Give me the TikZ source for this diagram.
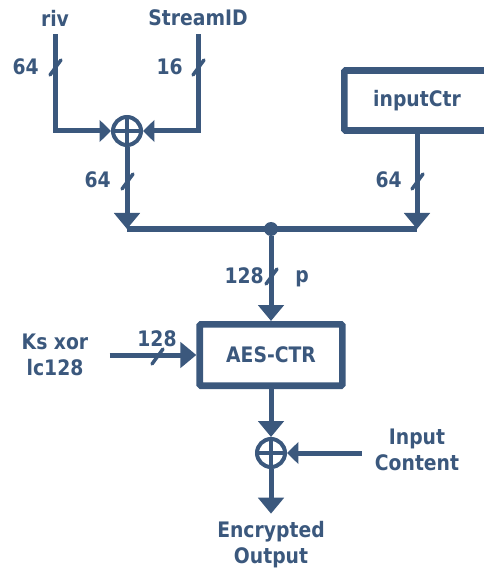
\documentclass[tikz,border=0pt]{standalone}
\usepackage{fontspec}
\setmainfont{DejaVu Sans}[FakeStretch=0.88]
\usepackage{xcolor}
\usepackage{tikz}
\usetikzlibrary{arrows.meta}

\definecolor{aesblue}{RGB}{59,88,125}

\begin{document}
\begin{tikzpicture}[x=0.75pt, y=-0.75pt,
    every node/.style={text=aesblue},
    lbl/.style={inner sep=0pt, font=\fontsize{16}{19.5}\selectfont\bfseries, align=center},
    blk/.style={rectangle, draw=aesblue, line width=5pt, rounded corners=1pt, font=\fontsize{16}{19.5}\selectfont\bfseries},
    wire/.style={draw=aesblue, line width=3.75pt},
    sig/.style={wire, -{Triangle[width=19pt, length=12pt]}},
    insig/.style={wire, -{Triangle[width=16pt, length=8.5pt]}},
    xorop/.style={circle, draw=aesblue, line width=3pt, minimum size=21pt, inner sep=0pt,
        path picture={\draw[aesblue, line width=2.4pt]
            (path picture bounding box.north) -- (path picture bounding box.south)
            (path picture bounding box.west) -- (path picture bounding box.east);}},
    bw/.pic={\draw[aesblue, line width=2.6pt, line cap=round] (-5,8) -- (6,-7);}
]
    \useasboundingbox (0,0) rectangle (484,573);
    \node[lbl, outer sep=6pt] (riv) at (55,18) {riv};
    \node[lbl, outer sep=6pt] (sid) at (198,18) {StreamID};
    \node[xorop] (xa) at (127,131) {};
    \node[blk, minimum width=109pt, minimum height=45pt] (ctr) at (417,100.5) {inputCtr};
    \coordinate (busL) at (127,229);
    \coordinate (busR) at (417,229);
    \node[circle, fill=aesblue, inner sep=0pt, minimum size=10.5pt] (jn) at (271,229) {};
    \node[blk, minimum width=107pt, minimum height=46pt] (aes) at (271,355) {AES-CTR};
    \node[lbl, outer sep=16pt] (ks) at (55,355) {Ks xor\\lc128};
    \node[xorop] (xb) at (271,453) {};
    \node[lbl, outer sep=10pt] (inc) at (417,450) {Input\\Content};
    \node[lbl, outer sep=6pt] (enc) at (271,545) {Encrypted\\Output};

    \draw[insig] (riv.south) |- (xa.west);
    \draw[insig] (sid.south) |- (xa.east);
    \draw[sig] (xa) -- (busL);
    \draw[sig] (ctr) -- (busR);
    \draw[wire] (busL) -- (busR);
    \draw[sig] (jn) -- (aes);
    \draw[sig] (ks.east) -- (aes.west);
    \draw[sig] (aes) -- (xb);
    \draw[insig] (inc.west |- xb) -- (xb.east);
    \draw[sig] (xb) -- (enc.north);

    \pic at (55,67) {bw};
    \pic at (198,67) {bw};
    \pic at (127,181) {bw};
    \pic at (417,181) {bw};
    \pic at (271,276) {bw};
    \pic at (157,356) {bw};
    \node[lbl, anchor=east] (w1) at (39,67) {64};
    \node[lbl, anchor=east] (w2) at (183,67) {16};
    \node[lbl, anchor=east] (w3) at (111,180) {64};
    \node[lbl, anchor=east] (w4) at (402,180) {64};
    \node[lbl, anchor=east] (w5) at (264,276) {128};
    \node[lbl] (w6) at (302,279) {p};
    \node[lbl] (w7) at (157,339) {128};
\end{tikzpicture}
\end{document}
